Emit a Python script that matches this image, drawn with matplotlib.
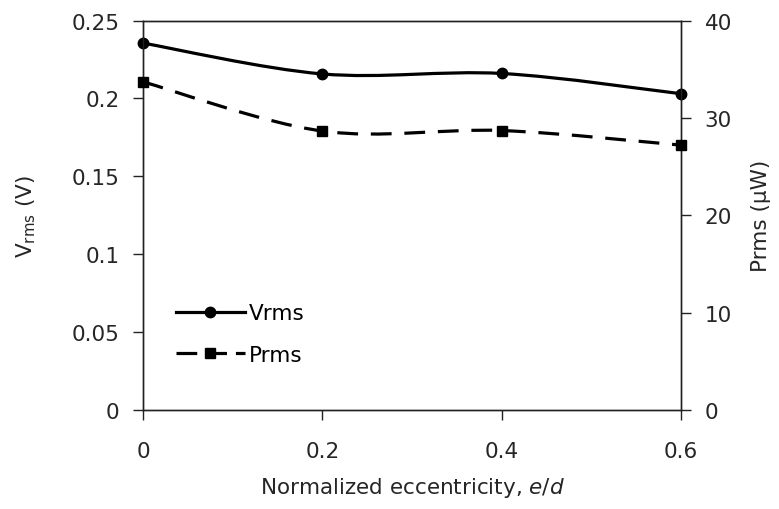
import numpy as np
import matplotlib
matplotlib.use('Agg')
import matplotlib.pyplot as plt
from matplotlib.path import Path
from matplotlib.patches import PathPatch
from matplotlib.lines import Line2D

plt.rcParams['font.family'] = ['DejaVu Sans']
plt.rcParams['mathtext.fontset'] = 'dejavusans'

ecc = [0, 0.2, 0.4, 0.6]
vrms = [0.2355, 0.2157, 0.2160, 0.2030]
prms = [33.7, 28.65, 28.7, 27.2]


def smooth_path(x, y):
    # Catmull-Rom style bezier through the points, like a smoothed spreadsheet line
    pts = np.column_stack([x, y]).astype(float)
    ext = np.vstack([pts[0], pts, pts[-1]])
    verts = [pts[0]]
    codes = [Path.MOVETO]
    for i in range(1, len(ext) - 2):
        p0, p1, p2, p3 = ext[i - 1], ext[i], ext[i + 1], ext[i + 2]
        verts += [p1 + (p2 - p0) / 6, p2 - (p3 - p1) / 6, p2]
        codes += [Path.CURVE4] * 3
    return Path(verts, codes)


fs = 15.5
tc = '#262626'

fig = plt.figure(figsize=(7.79, 5.10), dpi=100)
ax = fig.add_axes([143 / 779, 1 - 411 / 510, 538 / 779, 389.5 / 510])
ax2 = ax.twinx()

lw = 2.3
dash = (6.5, 4)
ax.add_patch(PathPatch(smooth_path(ecc, vrms), fill=False, color='black', lw=lw))
ax.plot(ecc, vrms, ls='none', marker='o', ms=7.5, color='black', clip_on=False, zorder=5)
ax2.add_patch(PathPatch(smooth_path(ecc, prms), fill=False, color='black', lw=lw,
                        linestyle=(0, dash)))
ax2.plot(ecc, prms, ls='none', marker='s', ms=7, color='black', clip_on=False, zorder=5)

ax.set_xlim(0, 0.6)
ax.set_ylim(0, 0.25)
ax2.set_ylim(0, 40)
ax.set_xticks([0, 0.2, 0.4, 0.6])
ax.set_xticklabels(['0', '0.2', '0.4', '0.6'])
ax.set_yticks([0, 0.05, 0.1, 0.15, 0.2, 0.25])
ax.set_yticklabels(['0', '0.05', '0.1', '0.15', '0.2', '0.25'])
ax2.set_yticks([0, 10, 20, 30, 40])

for a in (ax, ax2):
    for s in a.spines.values():
        s.set_linewidth(1.0)
        s.set_color('#222222')
ax.tick_params(axis='y', direction='out', length=7, width=1, pad=10, labelsize=fs, colors=tc)
ax.tick_params(axis='x', direction='out', length=7, width=1, pad=15, labelsize=fs, colors=tc)
ax2.tick_params(axis='y', direction='out', length=7, width=1, pad=10, labelsize=fs, colors=tc)
for a in (ax, ax2):
    a.tick_params(color='#222222')

ax.set_ylabel(r'V$_{\mathregular{rms}}$ (V)', fontsize=fs, color=tc)
ax.yaxis.set_label_coords(-(143 - 38) / 538, 0.5)
ax2.set_ylabel('Prms (µW)', fontsize=fs, color=tc, rotation=90)
ax2.yaxis.set_label_coords((751 - 143) / 538, 0.5)
ax.set_xlabel(r'Normalized eccentricity, $\it{e/d}$', fontsize=fs, color=tc)
ax.xaxis.set_label_coords(0.5, -(476 - 411) / 389.5)

handles = [
    Line2D([], [], color='black', lw=lw, marker='o', ms=7.5),
    Line2D([], [], color='black', lw=lw, marker='s', ms=7, linestyle=(0, (6.5, 2.8))),
]
ax.legend(handles, ['Vrms', 'Prms'], loc='center left',
          bbox_to_anchor=((176 - 143) / 538, (411 - 335) / 389.5),
          frameon=False, borderpad=0, borderaxespad=0, handlelength=3.2,
          handletextpad=0.2, labelspacing=1.0, fontsize=fs)

fig.savefig('out.png', dpi=100)
